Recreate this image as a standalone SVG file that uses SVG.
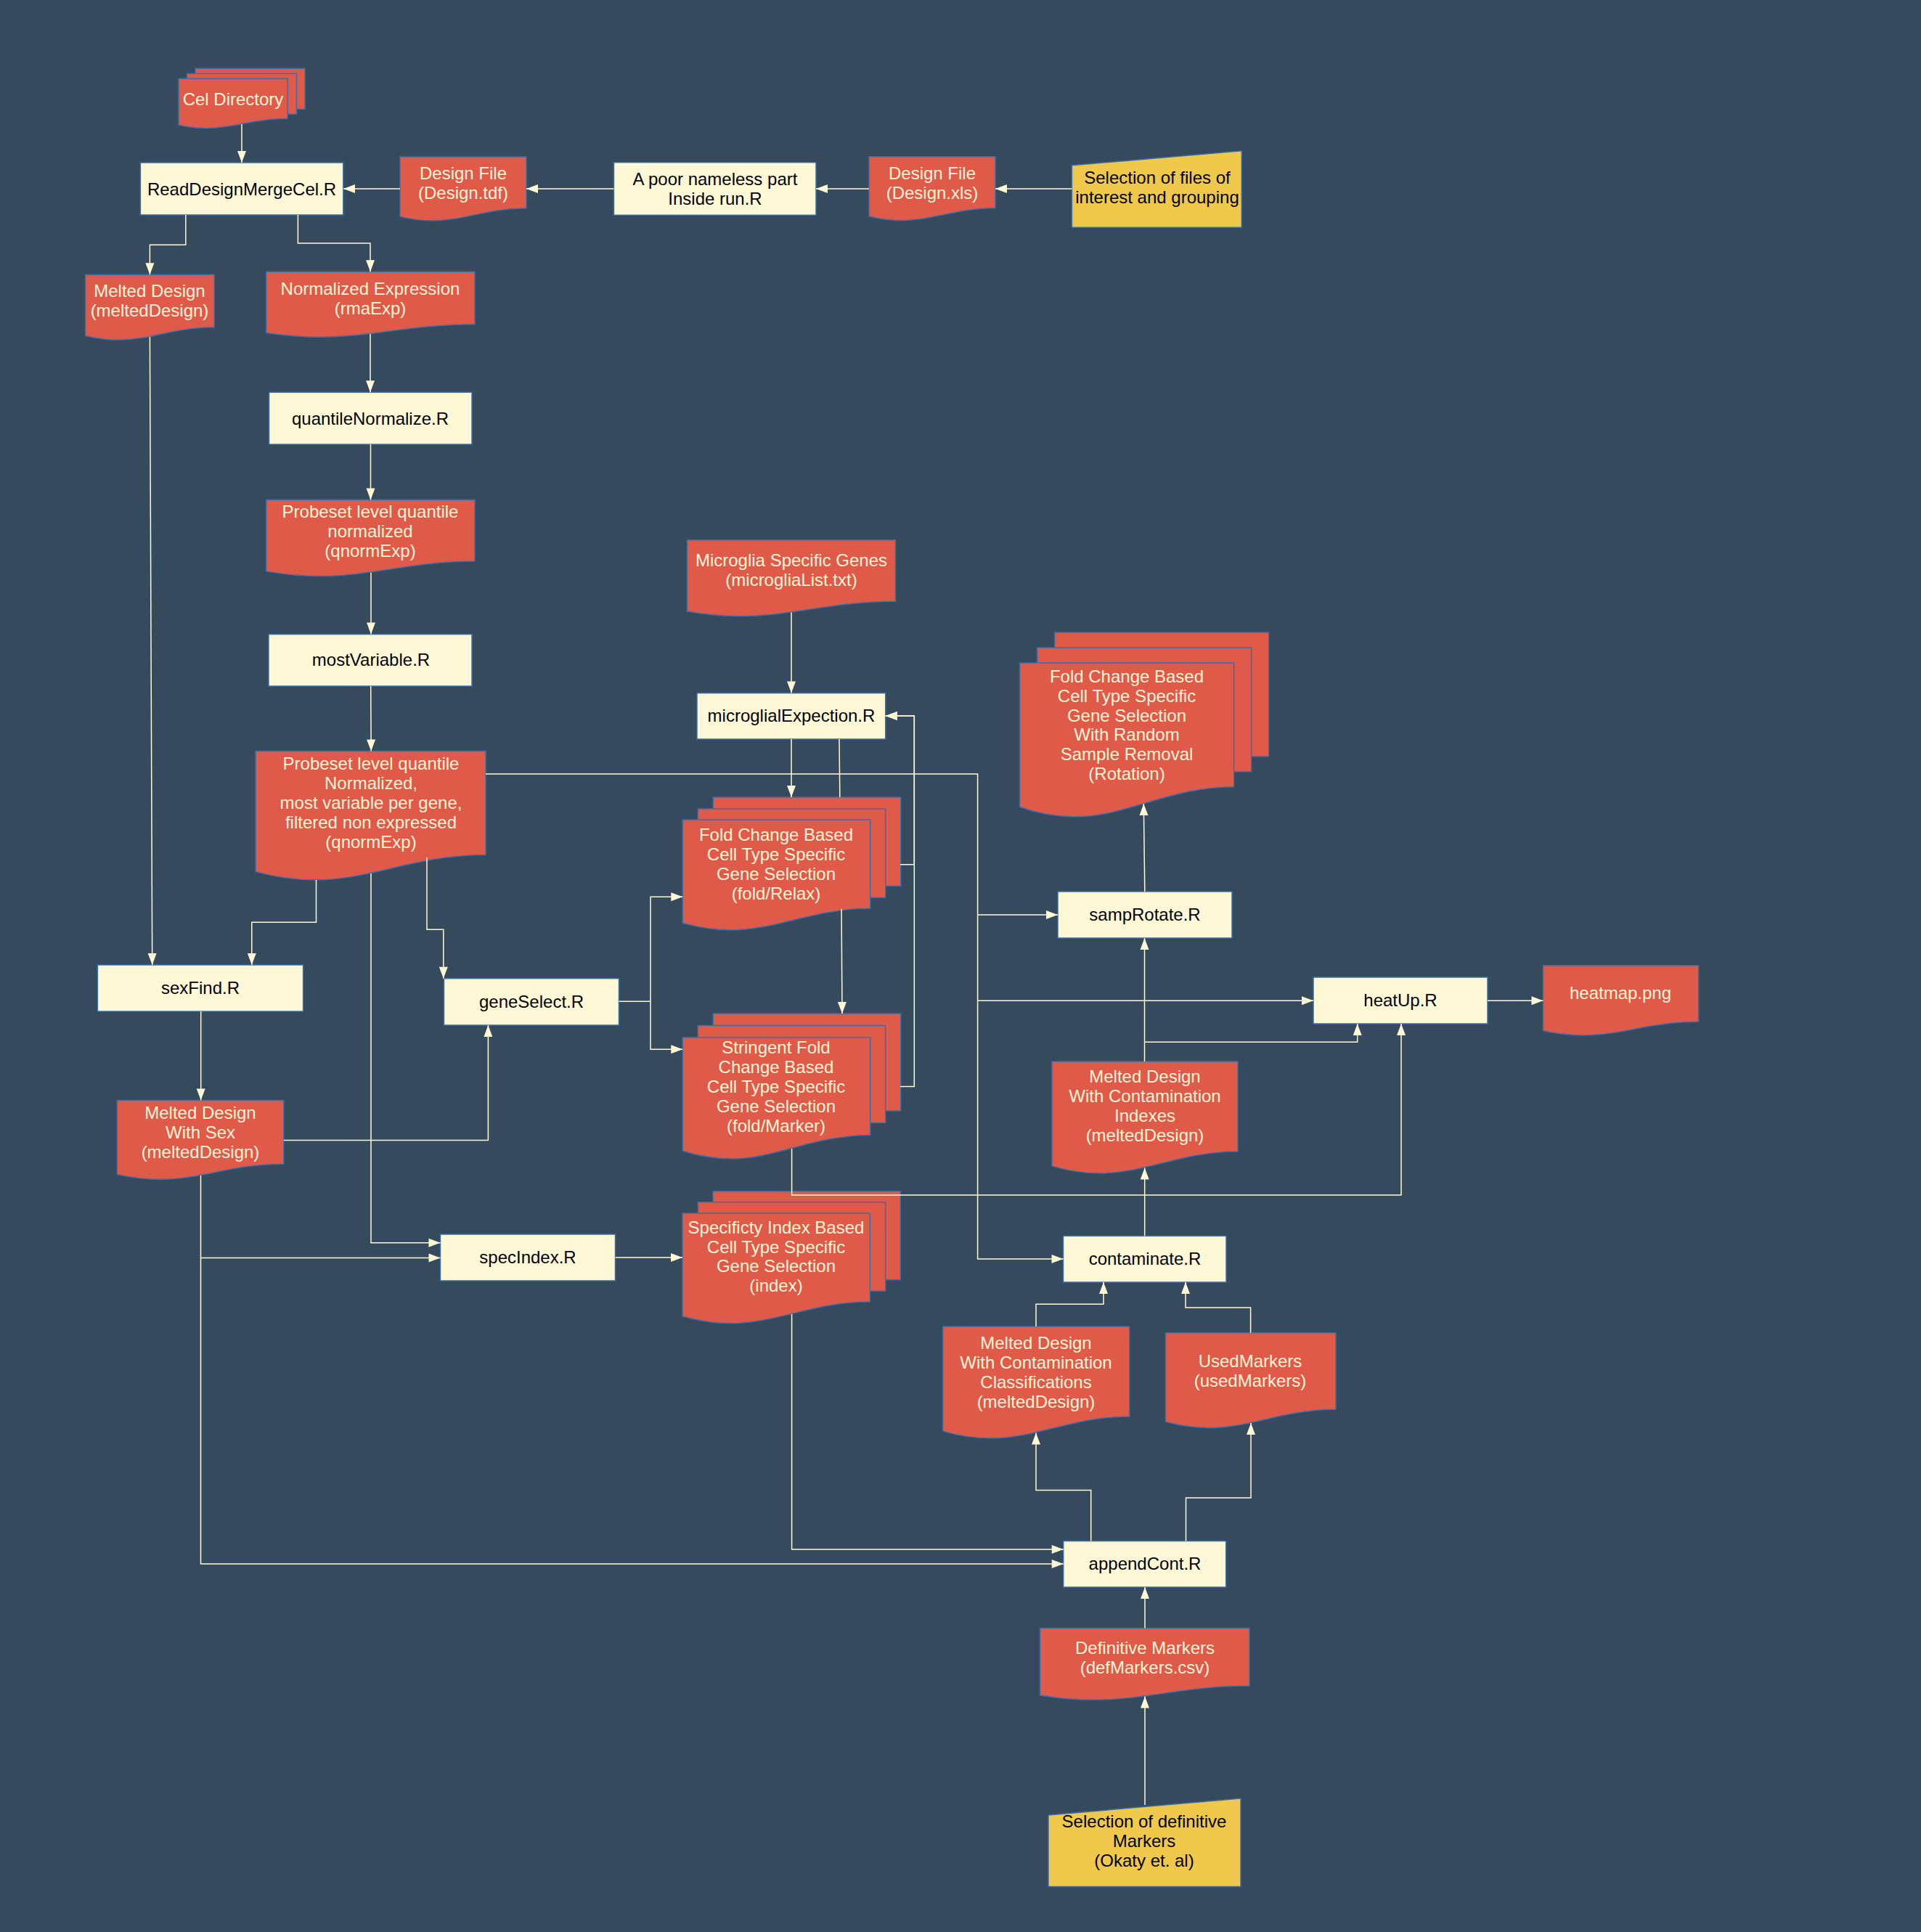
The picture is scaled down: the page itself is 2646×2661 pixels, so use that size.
<svg xmlns="http://www.w3.org/2000/svg" xmlns:xlink="http://www.w3.org/1999/xlink" width="2646" height="2661" viewBox="0 0 2646 2661">
<style>
.box{fill:#FFF8D6;stroke:#3C6EA6;stroke-width:1.5}
.doc{fill:#E05A4A;stroke:#3C6EA6;stroke-width:1.5}
.inp{fill:#F0C84B;stroke:#3C6EA6;stroke-width:1.5}
.t{font-family:"Liberation Sans",Arial,sans-serif;font-size:24px;text-anchor:middle}
.tl{fill:#FFF5D6}
.tb{fill:#000000}
.c{fill:none;stroke:#FFF8D6;stroke-width:1.5;marker-end:url(#arr)}
</style>
<defs>
<symbol id="docshape" viewBox="0 0 100 100" preserveAspectRatio="none" overflow="visible">
<path d="M0,0 H100 V80.5 C70,80.5 50,100 26,100 C16,100 8,97.5 0,93.6 Z" vector-effect="non-scaling-stroke"/>
</symbol>
<marker id="arr" markerUnits="userSpaceOnUse" markerWidth="17" markerHeight="12" refX="16" refY="6" orient="auto" overflow="visible">
<path d="M0,0 L16,6 L0,12 Z" fill="#FFF8D6"/>
</marker>
</defs>
<rect x="0" y="0" width="2646" height="2661" fill="#354B5D"/>

<g id="nodes">
<g id="cel-directory">
<rect class="doc" x="269" y="94.3" width="151" height="56"/>
<rect class="doc" x="257.5" y="101.3" width="151" height="56"/>
<use href="#docshape" class="doc" x="246" y="108.3" width="150" height="68.4"/>
<text class="t tl" x="321" y="144.5">Cel Directory</text>
</g>
<g id="read-design-merge-cel">
<rect class="box" x="193.4" y="224" width="279.4" height="72"/>
<text class="t tb" x="333" y="268.5">ReadDesignMergeCel.R</text>
</g>
<g id="design-tdf">
<use href="#docshape" class="doc" x="551" y="216" width="174" height="88"/>
<text class="t tl" x="638" y="246.5">Design File</text>
<text class="t tl" x="638" y="273.5">(Design.tdf)</text>
</g>
<g id="nameless-part">
<rect class="box" x="845.5" y="223.7" width="278.5" height="72.6"/>
<text class="t tb" x="985" y="254.5">A poor nameless part</text>
<text class="t tb" x="985" y="281.5">Inside run.R</text>
</g>
<g id="design-xls">
<use href="#docshape" class="doc" x="1197" y="215.7" width="174" height="88"/>
<text class="t tl" x="1284" y="246.5">Design File</text>
<text class="t tl" x="1284" y="273.5">(Design.xls)</text>
</g>
<g id="selection-files">
<polygon class="inp" points="1476.4,227.7 1710.3,207.7 1710.3,313.3 1476.4,313.3"/>
<text class="t tb" x="1594" y="252.5">Selection of files of</text>
<text class="t tb" x="1594" y="279.5">interest and grouping</text>
</g>
<g id="melted-design">
<use href="#docshape" class="doc" x="117.6" y="378.3" width="177.6" height="90"/>
<text class="t tl" x="206" y="409">Melted Design</text>
<text class="t tl" x="206" y="436">(meltedDesign)</text>
</g>
<g id="normalized-expression">
<use href="#docshape" class="doc" x="366.7" y="374.3" width="287.3" height="90"/>
<text class="t tl" x="510" y="406">Normalized Expression</text>
<text class="t tl" x="510" y="432.5">(rmaExp)</text>
</g>
<g id="quantile-normalize">
<rect class="box" x="370.6" y="540.3" width="279.4" height="71.7"/>
<text class="t tb" x="510" y="584.5">quantileNormalize.R</text>
</g>
<g id="probeset-qnorm">
<use href="#docshape" class="doc" x="366.7" y="688.6" width="287.3" height="105"/>
<text class="t tl" x="510" y="712.5">Probeset level quantile</text>
<text class="t tl" x="510" y="739.5">normalized</text>
<text class="t tl" x="510" y="766.5">(qnormExp)</text>
</g>
<g id="most-variable">
<rect class="box" x="370" y="873.6" width="280" height="71.4"/>
<text class="t tb" x="511" y="917">mostVariable.R</text>
</g>
<g id="probeset-filtered">
<use href="#docshape" class="doc" x="352" y="1034.6" width="317" height="177.4"/>
<text class="t tl" x="511" y="1060">Probeset level quantile</text>
<text class="t tl" x="511" y="1087">Normalized,</text>
<text class="t tl" x="511" y="1114">most variable per gene,</text>
<text class="t tl" x="511" y="1141">filtered non expressed</text>
<text class="t tl" x="511" y="1168">(qnormExp)</text>
</g>
<g id="microglia-genes">
<use href="#docshape" class="doc" x="946.5" y="743.7" width="287" height="105"/>
<text class="t tl" x="1090" y="780">Microglia Specific Genes</text>
<text class="t tl" x="1090" y="807">(microgliaList.txt)</text>
</g>
<g id="microglial-expection">
<rect class="box" x="960" y="954.6" width="259.7" height="63.4"/>
<text class="t tb" x="1090" y="994">microglialExpection.R</text>
</g>
<g id="rotation">
<rect class="doc" x="1452.6" y="871" width="295" height="171"/>
<rect class="doc" x="1428.6" y="892" width="295" height="171"/>
<use href="#docshape" class="doc" x="1404.6" y="913" width="295" height="212"/>
<text class="t tl" x="1552" y="939.5">Fold Change Based</text>
<text class="t tl" x="1552" y="966.5">Cell Type Specific</text>
<text class="t tl" x="1552" y="993.5">Gene Selection</text>
<text class="t tl" x="1552" y="1020">With Random</text>
<text class="t tl" x="1552" y="1046.5">Sample Removal</text>
<text class="t tl" x="1552" y="1073.5">(Rotation)</text>
</g>
<g id="fold-relax">
<rect class="doc" x="982.3" y="1098" width="258.4" height="122.4"/>
<rect class="doc" x="961.3" y="1114" width="258.4" height="122.4"/>
<use href="#docshape" class="doc" x="940.3" y="1129" width="258.4" height="152"/>
<text class="t tl" x="1069" y="1158">Fold Change Based</text>
<text class="t tl" x="1069" y="1185">Cell Type Specific</text>
<text class="t tl" x="1069" y="1211.5">Gene Selection</text>
<text class="t tl" x="1069" y="1238.5">(fold/Relax)</text>
</g>
<g id="fold-marker">
<rect class="doc" x="982.3" y="1396" width="258.4" height="134"/>
<rect class="doc" x="961.3" y="1412.5" width="258.4" height="134"/>
<use href="#docshape" class="doc" x="940.3" y="1429" width="258.4" height="167"/>
<text class="t tl" x="1069" y="1451">Stringent Fold</text>
<text class="t tl" x="1069" y="1478">Change Based</text>
<text class="t tl" x="1069" y="1505">Cell Type Specific</text>
<text class="t tl" x="1069" y="1531.5">Gene Selection</text>
<text class="t tl" x="1069" y="1558.5">(fold/Marker)</text>
</g>
<g id="spec-index-doc">
<rect class="doc" x="982" y="1640.7" width="258.3" height="122"/>
<rect class="doc" x="961.4" y="1655.7" width="258.3" height="122.5"/>
<use href="#docshape" class="doc" x="940" y="1671" width="258.3" height="151.7"/>
<text class="t tl" x="1069" y="1699">Specificty Index Based</text>
<text class="t tl" x="1069" y="1725.7">Cell Type Specific</text>
<text class="t tl" x="1069" y="1752.4">Gene Selection</text>
<text class="t tl" x="1069" y="1779">(index)</text>
</g>
<g id="sex-find">
<rect class="box" x="134.4" y="1329" width="283.2" height="64"/>
<text class="t tb" x="276" y="1368.5">sexFind.R</text>
</g>
<g id="gene-select">
<rect class="box" x="611.5" y="1347.7" width="241" height="64.3"/>
<text class="t tb" x="732" y="1388">geneSelect.R</text>
</g>
<g id="melted-sex">
<use href="#docshape" class="doc" x="161.2" y="1515.4" width="229.6" height="109"/>
<text class="t tl" x="276" y="1540.5">Melted Design</text>
<text class="t tl" x="276" y="1567.5">With Sex</text>
<text class="t tl" x="276" y="1594.5">(meltedDesign)</text>
</g>
<g id="spec-index">
<rect class="box" x="606.5" y="1700" width="241" height="64"/>
<text class="t tb" x="727" y="1740">specIndex.R</text>
</g>
<g id="samp-rotate">
<rect class="box" x="1457" y="1228" width="240" height="64"/>
<text class="t tb" x="1577" y="1268">sampRotate.R</text>
</g>
<g id="heat-up">
<rect class="box" x="1809" y="1346" width="240" height="64"/>
<text class="t tb" x="1929" y="1386">heatUp.R</text>
</g>
<g id="heatmap">
<use href="#docshape" class="doc" x="2125.5" y="1329.7" width="214" height="96.3"/>
<text class="t tl" x="2232" y="1376">heatmap.png</text>
</g>
<g id="melted-indexes">
<use href="#docshape" class="doc" x="1449" y="1462" width="256" height="154"/>
<text class="t tl" x="1577" y="1491">Melted Design</text>
<text class="t tl" x="1577" y="1518">With Contamination</text>
<text class="t tl" x="1577" y="1545">Indexes</text>
<text class="t tl" x="1577" y="1572">(meltedDesign)</text>
</g>
<g id="contaminate">
<rect class="box" x="1464.5" y="1702.3" width="224.5" height="63.7"/>
<text class="t tb" x="1577" y="1742">contaminate.R</text>
</g>
<g id="melted-classifications">
<use href="#docshape" class="doc" x="1298.7" y="1827" width="257" height="154"/>
<text class="t tl" x="1427" y="1857.5">Melted Design</text>
<text class="t tl" x="1427" y="1884.5">With Contamination</text>
<text class="t tl" x="1427" y="1911.5">Classifications</text>
<text class="t tl" x="1427" y="1938.5">(meltedDesign)</text>
</g>
<g id="used-markers">
<use href="#docshape" class="doc" x="1605.4" y="1835.7" width="234.6" height="131"/>
<text class="t tl" x="1722" y="1883">UsedMarkers</text>
<text class="t tl" x="1722" y="1910">(usedMarkers)</text>
</g>
<g id="append-cont">
<rect class="box" x="1464.7" y="2122.5" width="224" height="63.5"/>
<text class="t tb" x="1577" y="2162">appendCont.R</text>
</g>
<g id="definitive-markers">
<use href="#docshape" class="doc" x="1432.6" y="2242.6" width="288.4" height="98.7"/>
<text class="t tl" x="1577" y="2277.5">Definitive Markers</text>
<text class="t tl" x="1577" y="2304.5">(defMarkers.csv)</text>
</g>
<g id="selection-definitive">
<polygon class="inp" points="1444,2500 1709,2477 1709,2598.6 1444,2598.6"/>
<text class="t tb" x="1576" y="2517">Selection of definitive</text>
<text class="t tb" x="1576" y="2544">Markers</text>
<text class="t tb" x="1576" y="2571">(Okaty et. al)</text>
</g>
</g>

<g id="connectors">
<path class="c" d="M1476.4,260 H1371"/>
<path class="c" d="M1197,260 H1124"/>
<path class="c" d="M845.5,260 H725"/>
<path class="c" d="M551,260 H473"/>
<path class="c" d="M333,171 V224"/>
<path class="c" d="M255.8,296 V337.3 H206.4 V378.3"/>
<path class="c" d="M410.4,296 V335 H510 V374.3"/>
<path class="c" d="M206.4,463.8 L209.7,1329"/>
<path class="c" d="M510,459.8 V540.3"/>
<path class="c" d="M510.5,612 V688.6"/>
<path class="c" d="M511,788.4 V873.6"/>
<path class="c" d="M510.7,945 L511.2,1034.6"/>
<path class="c" d="M435.5,1212 V1270.3 H346.8 V1329"/>
<path class="c" d="M588,1181 V1280.3 H610.8 V1347.7"/>
<path class="c" d="M511,1203 V1711.7 H606.5"/>
<path class="c" d="M669,1066 H1346.6 V1734 H1464.5"/>
<path class="c" d="M1346.6,1260 H1457"/>
<path class="c" d="M1346.6,1378.3 H1809"/>
<path class="c" d="M276.7,1393 V1515.4"/>
<path class="c" d="M390.8,1570.5 H672.4 V1412"/>
<path class="c" d="M276.5,1619 V1732.4 H606.5"/>
<path class="c" d="M276.5,1732.4 V2154 H1464.7"/>
<path class="c" d="M852.6,1379.3 H896 V1235.3 H940.3"/>
<path class="c" d="M896,1379.3 V1445.3 H940.3"/>
<path class="c" d="M847.7,1732 H940"/>
<path class="c" d="M1090,843.5 V954.6"/>
<path class="c" d="M1090,1018 V1098"/>
<path class="c" d="M1156,1018 L1156.8,1098 M1159,1252 L1160,1396"/>
<path class="c" d="M1240,1190.7 H1259.3 V986 H1219.7"/>
<path class="c" d="M1240,1496.4 H1259.3 V986 H1219.7"/>
<path class="c" d="M1090.6,1582 V1646 H1930 V1410"/>
<path class="c" d="M1090.6,1810 V2134 H1464.7"/>
<path class="c" d="M1576.5,1462 V1292"/>
<path class="c" d="M1576.5,1435.3 H1869.7 V1410"/>
<path class="c" d="M1576.8,1228 L1575.3,1107"/>
<path class="c" d="M1576.7,1702.3 V1608.5"/>
<path class="c" d="M1427,1827 V1796.3 H1520 V1766"/>
<path class="c" d="M1722.6,1835.7 V1801 H1633 V1766"/>
<path class="c" d="M1502.7,2122.5 V2052.4 H1427 V1973.5"/>
<path class="c" d="M1633.5,2122.5 V2063 H1723 V1960"/>
<path class="c" d="M1577,2242.6 V2186"/>
<path class="c" d="M1577,2486 V2336.5"/>
<path class="c" d="M2049,1378.3 H2125.5"/>
</g>
</svg>
